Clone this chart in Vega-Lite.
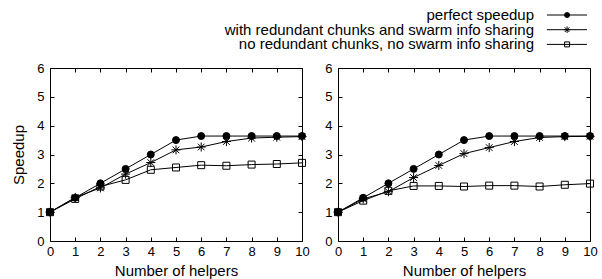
{
  "$schema": "https://vega.github.io/schema/vega-lite/v6.json",
  "padding": {"left": 11, "top": 7, "right": 0, "bottom": 0},
  "background": "white",
  "bounds": "flush",
  "config": {
    "font": "Liberation Sans",
    "view": {"stroke": "black", "strokeWidth": 1},
    "axis": {
      "grid": false, "domain": false, "tickColor": "black", "tickSize": -4, "tickWidth": 1,
      "labelColor": "black", "labelFont": "Liberation Sans", "labelFontSize": 13,
      "titleFont": "Liberation Sans", "titleFontSize": 15, "titleFontWeight": "normal", "titleColor": "black"
    }
  },
  "datasets": {
    "legendRows": [
      {"series": "perfect speedup"},
      {"series": "with redundant chunks and swarm info sharing"},
      {"series": "no redundant chunks, no swarm info sharing"}
    ],
    "d": [
      {"panel": "a", "series": "perfect speedup", "helpers": 0, "speedup": 1},
      {"panel": "a", "series": "perfect speedup", "helpers": 1, "speedup": 1.5},
      {"panel": "a", "series": "perfect speedup", "helpers": 2, "speedup": 2},
      {"panel": "a", "series": "perfect speedup", "helpers": 3, "speedup": 2.5},
      {"panel": "a", "series": "perfect speedup", "helpers": 4, "speedup": 3},
      {"panel": "a", "series": "perfect speedup", "helpers": 5, "speedup": 3.5},
      {"panel": "a", "series": "perfect speedup", "helpers": 6, "speedup": 3.64},
      {"panel": "a", "series": "perfect speedup", "helpers": 7, "speedup": 3.64},
      {"panel": "a", "series": "perfect speedup", "helpers": 8, "speedup": 3.64},
      {"panel": "a", "series": "perfect speedup", "helpers": 9, "speedup": 3.64},
      {"panel": "a", "series": "perfect speedup", "helpers": 10, "speedup": 3.64},
      {"panel": "a", "series": "with redundant chunks and swarm info sharing", "helpers": 0, "speedup": 1},
      {"panel": "a", "series": "with redundant chunks and swarm info sharing", "helpers": 1, "speedup": 1.51},
      {"panel": "a", "series": "with redundant chunks and swarm info sharing", "helpers": 2, "speedup": 1.84},
      {"panel": "a", "series": "with redundant chunks and swarm info sharing", "helpers": 3, "speedup": 2.32},
      {"panel": "a", "series": "with redundant chunks and swarm info sharing", "helpers": 4, "speedup": 2.72},
      {"panel": "a", "series": "with redundant chunks and swarm info sharing", "helpers": 5, "speedup": 3.16},
      {"panel": "a", "series": "with redundant chunks and swarm info sharing", "helpers": 6, "speedup": 3.26},
      {"panel": "a", "series": "with redundant chunks and swarm info sharing", "helpers": 7, "speedup": 3.45},
      {"panel": "a", "series": "with redundant chunks and swarm info sharing", "helpers": 8, "speedup": 3.57},
      {"panel": "a", "series": "with redundant chunks and swarm info sharing", "helpers": 9, "speedup": 3.6},
      {"panel": "a", "series": "with redundant chunks and swarm info sharing", "helpers": 10, "speedup": 3.62},
      {"panel": "a", "series": "no redundant chunks, no swarm info sharing", "helpers": 0, "speedup": 1},
      {"panel": "a", "series": "no redundant chunks, no swarm info sharing", "helpers": 1, "speedup": 1.46},
      {"panel": "a", "series": "no redundant chunks, no swarm info sharing", "helpers": 2, "speedup": 1.89},
      {"panel": "a", "series": "no redundant chunks, no swarm info sharing", "helpers": 3, "speedup": 2.12},
      {"panel": "a", "series": "no redundant chunks, no swarm info sharing", "helpers": 4, "speedup": 2.47},
      {"panel": "a", "series": "no redundant chunks, no swarm info sharing", "helpers": 5, "speedup": 2.55},
      {"panel": "a", "series": "no redundant chunks, no swarm info sharing", "helpers": 6, "speedup": 2.63},
      {"panel": "a", "series": "no redundant chunks, no swarm info sharing", "helpers": 7, "speedup": 2.61},
      {"panel": "a", "series": "no redundant chunks, no swarm info sharing", "helpers": 8, "speedup": 2.65},
      {"panel": "a", "series": "no redundant chunks, no swarm info sharing", "helpers": 9, "speedup": 2.67},
      {"panel": "a", "series": "no redundant chunks, no swarm info sharing", "helpers": 10, "speedup": 2.71},
      {"panel": "b", "series": "perfect speedup", "helpers": 0, "speedup": 1},
      {"panel": "b", "series": "perfect speedup", "helpers": 1, "speedup": 1.5},
      {"panel": "b", "series": "perfect speedup", "helpers": 2, "speedup": 2},
      {"panel": "b", "series": "perfect speedup", "helpers": 3, "speedup": 2.5},
      {"panel": "b", "series": "perfect speedup", "helpers": 4, "speedup": 3},
      {"panel": "b", "series": "perfect speedup", "helpers": 5, "speedup": 3.5},
      {"panel": "b", "series": "perfect speedup", "helpers": 6, "speedup": 3.64},
      {"panel": "b", "series": "perfect speedup", "helpers": 7, "speedup": 3.64},
      {"panel": "b", "series": "perfect speedup", "helpers": 8, "speedup": 3.64},
      {"panel": "b", "series": "perfect speedup", "helpers": 9, "speedup": 3.64},
      {"panel": "b", "series": "perfect speedup", "helpers": 10, "speedup": 3.64},
      {"panel": "b", "series": "with redundant chunks and swarm info sharing", "helpers": 0, "speedup": 1},
      {"panel": "b", "series": "with redundant chunks and swarm info sharing", "helpers": 1, "speedup": 1.46},
      {"panel": "b", "series": "with redundant chunks and swarm info sharing", "helpers": 2, "speedup": 1.71},
      {"panel": "b", "series": "with redundant chunks and swarm info sharing", "helpers": 3, "speedup": 2.2},
      {"panel": "b", "series": "with redundant chunks and swarm info sharing", "helpers": 4, "speedup": 2.62},
      {"panel": "b", "series": "with redundant chunks and swarm info sharing", "helpers": 5, "speedup": 3.03},
      {"panel": "b", "series": "with redundant chunks and swarm info sharing", "helpers": 6, "speedup": 3.24},
      {"panel": "b", "series": "with redundant chunks and swarm info sharing", "helpers": 7, "speedup": 3.45},
      {"panel": "b", "series": "with redundant chunks and swarm info sharing", "helpers": 8, "speedup": 3.59},
      {"panel": "b", "series": "with redundant chunks and swarm info sharing", "helpers": 9, "speedup": 3.62},
      {"panel": "b", "series": "with redundant chunks and swarm info sharing", "helpers": 10, "speedup": 3.63},
      {"panel": "b", "series": "no redundant chunks, no swarm info sharing", "helpers": 0, "speedup": 1},
      {"panel": "b", "series": "no redundant chunks, no swarm info sharing", "helpers": 1, "speedup": 1.4},
      {"panel": "b", "series": "no redundant chunks, no swarm info sharing", "helpers": 2, "speedup": 1.74},
      {"panel": "b", "series": "no redundant chunks, no swarm info sharing", "helpers": 3, "speedup": 1.91},
      {"panel": "b", "series": "no redundant chunks, no swarm info sharing", "helpers": 4, "speedup": 1.91},
      {"panel": "b", "series": "no redundant chunks, no swarm info sharing", "helpers": 5, "speedup": 1.89},
      {"panel": "b", "series": "no redundant chunks, no swarm info sharing", "helpers": 6, "speedup": 1.92},
      {"panel": "b", "series": "no redundant chunks, no swarm info sharing", "helpers": 7, "speedup": 1.92},
      {"panel": "b", "series": "no redundant chunks, no swarm info sharing", "helpers": 8, "speedup": 1.89},
      {"panel": "b", "series": "no redundant chunks, no swarm info sharing", "helpers": 9, "speedup": 1.95},
      {"panel": "b", "series": "no redundant chunks, no swarm info sharing", "helpers": 10, "speedup": 1.99}
    ]
  },
  "spacing": 36,
  "resolve": {"scale": {"shape": "shared", "fill": "shared"}},
  "hconcat": [
    {
      "width": 252, "height": 173,
      "data": {"name": "d"},
      "resolve": {"axis": {"x": "independent", "y": "independent"}},
      "layer": [
        {
          "transform": [{"filter": "datum.panel == 'a'"}],
          "mark": {"type": "line", "color": "black", "strokeWidth": 1},
          "encoding": {
            "x": {"field": "helpers", "type": "quantitative", "scale": {"domain": [0, 10]},
                  "axis": {"values": [0,1,2,3,4,5,6,7,8,9,10], "title": "Number of helpers", "labelPadding": 8, "titlePadding": 5, "labelFlush": false}},
            "y": {"field": "speedup", "type": "quantitative", "scale": {"domain": [0, 6]},
                  "axis": {"values": [0,1,2,3,4,5,6], "title": "Speedup", "labelPadding": 10, "titlePadding": 10}},
            "detail": {"field": "series"}
          }
        },
        {
          "transform": [{"filter": "datum.panel == 'a'"}],
          "mark": {"type": "point", "filled": true, "stroke": "black", "strokeWidth": 1, "size": 49, "opacity": 1},
          "encoding": {
            "x": {"field": "helpers", "type": "quantitative", "axis": null},
            "y": {"field": "speedup", "type": "quantitative", "axis": null},
            "shape": {"field": "series", "type": "nominal", "legend": null,
              "scale": {"domain": ["perfect speedup", "with redundant chunks and swarm info sharing", "no redundant chunks, no swarm info sharing"],
                        "range": ["circle", "M-1.3,0L1.3,0M0,-1.3L0,1.3M-0.95,-0.95L0.95,0.95M-0.95,0.95L0.95,-0.95", "square"]}},
            "fill": {"field": "series", "type": "nominal", "legend": null,
              "scale": {"domain": ["perfect speedup", "with redundant chunks and swarm info sharing", "no redundant chunks, no swarm info sharing"],
                        "range": ["black", "transparent", "transparent"]}}
          }
        },
        {
          "transform": [{"filter": "datum.panel == 'a'"}],
          "mark": {"type": "point", "opacity": 0},
          "encoding": {
            "x": {"field": "helpers", "type": "quantitative", "axis": {"orient": "top", "labels": false, "title": null, "values": [0,1,2,3,4,5,6,7,8,9,10]}},
            "y": {"field": "speedup", "type": "quantitative", "axis": {"orient": "right", "labels": false, "title": null, "values": [0,1,2,3,4,5,6]}}
          }
        }
      ]
    },
    {
      "width": 252, "height": 173,
      "data": {"name": "d"},
      "resolve": {"scale": {"y": "independent"}, "axis": {"x": "independent", "y": "independent"}},
      "layer": [
        {
          "transform": [{"filter": "datum.panel == 'b'"}],
          "mark": {"type": "line", "color": "black", "strokeWidth": 1},
          "encoding": {
            "x": {"field": "helpers", "type": "quantitative", "scale": {"domain": [0, 10]},
                  "axis": {"values": [0,1,2,3,4,5,6,7,8,9,10], "title": "Number of helpers", "labelPadding": 8, "titlePadding": 5, "labelFlush": false}},
            "y": {"field": "speedup", "type": "quantitative", "scale": {"domain": [0, 6]},
                  "axis": {"orient": "left", "values": [0,1,2,3,4,5,6], "title": null, "labelPadding": 10}},
            "detail": {"field": "series"}
          }
        },
        {
          "transform": [{"filter": "datum.panel == 'b'"}],
          "mark": {"type": "point", "filled": true, "stroke": "black", "strokeWidth": 1, "size": 49, "opacity": 1},
          "encoding": {
            "x": {"field": "helpers", "type": "quantitative", "axis": null},
            "y": {"field": "speedup", "type": "quantitative", "scale": {"domain": [0, 6]}, "axis": null},
            "shape": {"field": "series", "type": "nominal", "legend": null},
            "fill": {"field": "series", "type": "nominal", "legend": null}
          }
        },
        {
          "transform": [{"filter": "datum.panel == 'b'"}],
          "mark": {"type": "point", "opacity": 0},
          "encoding": {
            "x": {"field": "helpers", "type": "quantitative", "axis": {"orient": "top", "labels": false, "title": null, "values": [0,1,2,3,4,5,6,7,8,9,10]}},
            "y": {"field": "speedup", "type": "quantitative", "scale": {"domain": [0, 6]}, "axis": {"orient": "right", "labels": false, "title": null, "values": [0,1,2,3,4,5,6]}}
          }
        },
        {
          "data": {"name": "legendRows"},
          "mark": {"type": "text", "align": "right", "baseline": "middle", "fontSize": 15, "font": "Liberation Sans", "color": "black"},
          "encoding": {
            "x": {"datum": 7.78, "type": "quantitative", "axis": null},
            "y": {"field": "series", "type": "nominal", "sort": null, "axis": null,
              "scale": {"type": "point", "domain": ["perfect speedup", "with redundant chunks and swarm info sharing", "no redundant chunks, no swarm info sharing"], "range": [-53, -23.6], "padding": 0}},
            "text": {"field": "series"}
          }
        },
        {
          "data": {"name": "legendRows"},
          "mark": {"type": "rule", "color": "black", "strokeWidth": 1},
          "encoding": {
            "x": {"datum": 8.29, "type": "quantitative", "axis": null},
            "x2": {"datum": 9.88},
            "y": {"field": "series", "type": "nominal", "sort": null, "axis": null,
              "scale": {"type": "point", "domain": ["perfect speedup", "with redundant chunks and swarm info sharing", "no redundant chunks, no swarm info sharing"], "range": [-53, -23.6], "padding": 0}}
          }
        },
        {
          "data": {"name": "legendRows"},
          "mark": {"type": "point", "filled": true, "stroke": "black", "strokeWidth": 1, "size": 25, "opacity": 1},
          "encoding": {
            "x": {"datum": 9.09, "type": "quantitative", "axis": null},
            "y": {"field": "series", "type": "nominal", "sort": null, "axis": null,
              "scale": {"type": "point", "domain": ["perfect speedup", "with redundant chunks and swarm info sharing", "no redundant chunks, no swarm info sharing"], "range": [-53, -23.6], "padding": 0}},
            "shape": {"field": "series", "type": "nominal", "legend": null},
            "fill": {"field": "series", "type": "nominal", "legend": null}
          }
        }
      ]
    }
  ]
}
